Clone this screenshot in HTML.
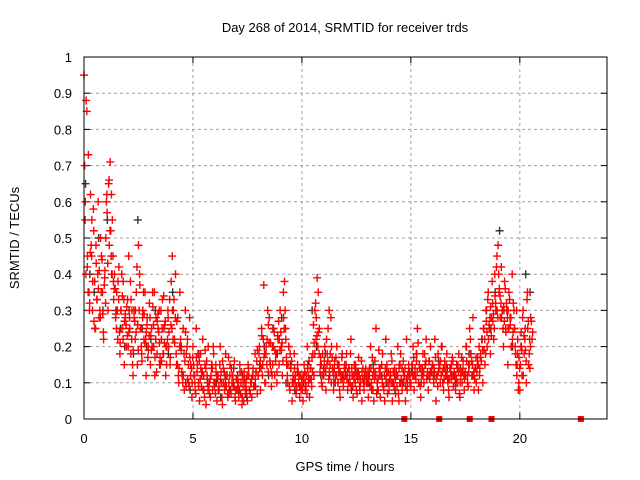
<!DOCTYPE html>
<html><head><meta charset="utf-8"><style>
body{margin:0;background:#fff;}
svg{display:block;font-family:"Liberation Sans",sans-serif;}
</style></head><body>
<svg id="chart" width="640" height="480">
<rect width="640" height="480" fill="#fff"/>
<text x="345" y="32" font-size="13" text-anchor="middle">Day 268 of 2014, SRMTID for receiver trds</text>
<text x="345" y="471" font-size="13" text-anchor="middle">GPS time / hours</text>
<text transform="translate(19,238) rotate(-90)" font-size="13" text-anchor="middle">SRMTID / TECUs</text>
<g id="grid"></g>
<g id="ticks"></g>
<g id="gray"></g>
<g id="red"></g>
<rect x="84" y="57" width="523" height="362" fill="none" stroke="#000" stroke-width="1"/>
</svg>
<script>
const xTicks=[0,5,10,15,20];
const yTicks=[0,0.1,0.2,0.3,0.4,0.5,0.6,0.7,0.8,0.9,1];
const yTickLabels=["0","0.1","0.2","0.3","0.4","0.5","0.6","0.7","0.8","0.9","1"];
const red1Start=0, red1Step=0.05;
const red1=[.95,.55,.88,.42,.73,.30,.62,.45,.38,.52,.25,.48,.33,.60,.41,.28,.45,.35,.22,.39,
.50,.62,.30,.66,.71,.45,.55,.38,.40,.28,.35,.22,.42,.18,.30,.25,.38,.15,.28,.20,
.33,.45,.25,.18,.30,.12,.28,.22,.35,.15,.48,.40,.25,.18,.30,.22,.35,.12,.28,.20,
.32,.15,.25,.35,.20,.12,.28,.18,.25,.30,.15,.22,.33,.18,.26,.12,.20,.30,.24,.15,
.38,.45,.30,.22,.40,.15,.28,.10,.35,.20,.12,.25,.08,.30,.18,.22,.10,.28,.15,.06,
.20,.12,.08,.25,.15,.10,.05,.18,.12,.22,.08,.15,.04,.12,.20,.10,.06,.14,.08,.18,
.10,.15,.05,.12,.08,.20,.10,.04,.14,.08,.18,.12,.06,.10,.15,.07,.12,.09,.16,.05,
.08,.12,.06,.15,.10,.04,.09,.13,.07,.11,.05,.14,.08,.10,.06,.12,.09,.18,.13,.07,
.12,.20,.08,.25,.15,.37,.10,.18,.22,.13,.28,.15,.09,.20,.25,.12,.18,.10,.22,.15,
.30,.20,.12,.35,.38,.25,.15,.10,.20,.08,.14,.05,.10,.18,.12,.08,.15,.10,.06,.12,
.10,.05,.15,.08,.12,.20,.10,.06,.14,.09,.18,.12,.30,.22,.39,.35,.25,.15,.10,.18,
.12,.20,.08,.15,.25,.30,.18,.10,.14,.08,.16,.12,.20,.10,.15,.06,.12,.18,.09,.14,
.12,.18,.08,.14,.10,.22,.12,.06,.15,.10,.08,.13,.17,.09,.11,.05,.14,.08,.12,.10,
.10,.06,.14,.20,.08,.12,.05,.16,.25,.10,.08,.14,.06,.12,.18,.09,.05,.22,.15,.10,
.08,.12,.18,.05,.10,.14,.07,.12,.20,.05,.15,.10,.08,.16,.12,.05,.22,.10,.15,.12,
.10,.15,.20,.08,.12,.18,.25,.10,.14,.06,.12,.18,.10,.15,.22,.12,.08,.16,.20,.13,
.15,.10,.22,.05,.12,.18,.15,.10,.20,.13,.08,.16,.12,.18,.10,.06,.14,.11,.17,.09,
.12,.08,.15,.10,.18,.06,.13,.10,.16,.08,.12,.20,.10,.15,.25,.18,.12,.28,.08,.14,
.10,.15,.08,.12,.18,.22,.10,.25,.15,.30,.20,.35,.25,.18,.28,.32,.22,.40,.30,.45,
.48,.35,.28,.42,.30,.20,.38,.25,.30,.15,.35,.28,.20,.40,.32,.25,.18,.30,.22,.10,
.08,.20,.12,.30,.18,.25,.10,.35,.15,.22,.28];
const red2Start=0.03, red2Step=0.1;
const red2=[.70,.85,.35,.48,.58,.25,.40,.30,.44,.37,
.60,.65,.52,.45,.36,.30,.24,.40,.33,.26,
.20,.38,.15,.27,.42,.30,.20,.35,.22,.17,
.28,.20,.35,.13,.24,.30,.18,.27,.22,.33,
.25,.33,.18,.12,.22,.10,.16,.20,.09,.14,
.15,.07,.18,.11,.13,.06,.16,.09,.12,.20,
.07,.11,.15,.06,.13,.09,.17,.08,.12,.06,
.11,.08,.13,.05,.10,.15,.07,.12,.09,.16,
.18,.14,.22,.10,.30,.16,.12,.24,.18,.27,
.24,.16,.30,.12,.09,.16,.11,.07,.13,.09,
.08,.13,.07,.16,.11,.26,.32,.20,.13,.09,
.16,.22,.11,.28,.13,.10,.15,.08,.17,.11,
.15,.10,.18,.09,.13,.07,.12,.16,.10,.14,
.13,.09,.17,.11,.07,.19,.12,.09,.14,.07,
.11,.16,.09,.13,.07,.18,.10,.14,.08,.13,
.13,.17,.11,.21,.09,.14,.18,.11,.16,.13,
.12,.17,.09,.14,.20,.11,.15,.08,.13,.16,
.10,.14,.07,.17,.12,.20,.09,.22,.15,.11,
.13,.20,.16,.25,.18,.33,.28,.38,.25,.42,
.40,.32,.25,.36,.28,.33,.20,.30,.15,.08,
.15,.28,.22,.33,.18,.27];
const red3Start=0.06, red3Step=0.1;
const red3=[.60,.45,.32,.55,.27,.43,.36,.50,.29,.41,
.57,.48,.62,.33,.29,.38,.21,.34,.27,.31,
.24,.33,.19,.30,.26,.37,.16,.29,.24,.19,
.23,.31,.17,.27,.21,.16,.34,.20,.28,.17,
.30,.21,.27,.14,.19,.12,.24,.11,.17,.10,
.12,.17,.09,.14,.08,.19,.11,.07,.15,.10,
.13,.08,.11,.16,.09,.12,.07,.14,.10,.08,
.09,.13,.06,.11,.08,.12,.10,.14,.11,.19,
.14,.23,.17,.20,.26,.21,.15,.19,.13,.22,
.19,.28,.22,.15,.18,.10,.14,.09,.12,.08,
.12,.10,.14,.11,.17,.21,.28,.24,.17,.12,
.14,.18,.13,.20,.12,.17,.10,.13,.11,.15,
.11,.14,.09,.12,.15,.11,.08,.13,.10,.12,
.11,.14,.08,.13,.10,.12,.15,.08,.11,.13,
.13,.10,.12,.09,.14,.11,.13,.09,.12,.10,
.15,.12,.16,.10,.14,.12,.15,.13,.11,.14,
.14,.11,.13,.16,.10,.14,.12,.11,.15,.12,
.12,.15,.10,.13,.11,.16,.13,.18,.12,.14,
.17,.14,.22,.19,.27,.22,.31,.27,.34,.30,
.36,.28,.31,.24,.30,.26,.22,.25,.12,.17,
.24,.12,.19,.25,.14,.22];
const red4Start=0.09, red4Step=0.1;
const red4=[.40,.35,.46,.30,.38,.33,.28,.35,.24,.32,
.43,.52,.40,.36,.25,.33,.30,.22,.29,.23,
.28,.22,.30,.24,.19,.25,.28,.21,.26,.23,
.19,.26,.22,.29,.17,.25,.21,.15,.20,.26,
.22,.28,.15,.20,.13,.18,.09,.15,.12,.17,
.10,.13,.16,.09,.12,.14,.08,.11,.14,.09,
.12,.09,.13,.10,.11,.07,.12,.10,.09,.11,
.10,.07,.11,.09,.12,.08,.11,.09,.13,.12,
.16,.12,.18,.15,.21,.13,.20,.16,.23,.19,
.21,.25,.17,.20,.14,.12,.10,.13,.09,.11,
.11,.09,.12,.14,.13,.18,.23,.18,.15,.14,
.13,.16,.15,.17,.14,.12,.13,.11,.12,.13,
.13,.12,.14,.11,.12,.13,.10,.11,.13,.11,
.12,.10,.13,.12,.11,.14,.10,.12,.13,.10,
.10,.13,.11,.12,.10,.14,.12,.11,.13,.09,
.12,.14,.13,.15,.12,.13,.16,.12,.13,.15,
.13,.12,.15,.12,.14,.13,.11,.14,.12,.13,
.11,.13,.12,.14,.13,.12,.15,.16,.13,.17,
.15,.17,.19,.22,.24,.26,.23,.29,.32,.28,
.34,.30,.27,.32,.25,.28,.24,.20,.18,.14,
.19,.23,.16,.27,.20,.24];
const grayStart=0.07, grayStep=0.2;
const gray=[.65,.40,.35,.50,.30,.55,.40,.30,.25,.20,.30,.18,.55,.25,.20,.22,.30,.15,.25,.18,
.35,.15,.20,.10,.08,.12,.18,.08,.10,.15,.10,.06,.12,.08,.14,.08,.12,.06,.10,.09,
.15,.20,.12,.25,.18,.28,.10,.15,.08,.12,.10,.15,.30,.20,.12,.18,.12,.10,.15,.12,
.12,.08,.14,.10,.12,.10,.15,.08,.12,.10,.12,.08,.15,.10,.12,.14,.18,.10,.15,.12,
.12,.16,.10,.14,.12,.10,.14,.12,.18,.12,.15,.22,.30,.25,.35,.52,.30,.25,.20,.15,
.20,.40,.35];
const zeroTimes=[14.7,16.3,17.7,18.7,22.8];

const L=84,R=607,T=57,B=419,XMAX=24;
const xs=t=>L+t/XMAX*(R-L);
const ys=v=>B-v*(B-T);
const NS="http://www.w3.org/2000/svg";
function mk(tag,attrs,parent){const e=document.createElementNS(NS,tag);for(const k in attrs)e.setAttribute(k,attrs[k]);parent.appendChild(e);return e;}
const grid=document.getElementById('grid'),ticks=document.getElementById('ticks');
yTicks.forEach((v,i)=>{
  const y=ys(v);
  if(v>0&&v<1){const g=mk('line',{x1:L,x2:R,y1:y,y2:y,stroke:'#a0a0a0','stroke-dasharray':'3,3'},grid);
  
  }
  mk('line',{x1:L,x2:L+6,y1:y,y2:y,stroke:'#000'},ticks);
  mk('line',{x1:R,x2:R-6,y1:y,y2:y,stroke:'#000'},ticks);
  const t=mk('text',{x:L-12,y:y+5,'font-size':13,'text-anchor':'end'},ticks);
  t.textContent=yTickLabels[i];
  
  
});
xTicks.forEach(v=>{
  const x=xs(v);
  if(v>0){const g=mk('line',{x1:x,x2:x,y1:T,y2:B,stroke:'#a0a0a0','stroke-dasharray':'3,3'},grid);
  
  }
  mk('line',{x1:x,x2:x,y1:B,y2:B-6,stroke:'#000'},ticks);
  mk('line',{x1:x,x2:x,y1:T,y2:T+6,stroke:'#000'},ticks);
  const t=mk('text',{x:x,y:B+24,'font-size':13,'text-anchor':'middle'},ticks);
  t.textContent=String(v);
  
  
});
function plus(g,t,v,col){
  const x=xs(t),y=ys(v);
  const p=mk('path',{d:`M${x-4},${y}h8M${x},${y-4}v8`,stroke:col,'stroke-width':1.4,fill:'none'},g);
  
  
}
const gG=document.getElementById('gray'),gR=document.getElementById('red');
gray.forEach((v,i)=>plus(gG,grayStart+i*grayStep,v,'#333'));
red1.forEach((v,i)=>plus(gR,red1Start+i*red1Step,v,'#f00'));
red2.forEach((v,i)=>plus(gR,red2Start+i*red2Step,v,'#f00'));
red3.forEach((v,i)=>plus(gR,red3Start+i*red3Step,v,'#f00'));
red4.forEach((v,i)=>plus(gR,red4Start+i*red4Step,v,'#f00'));
zeroTimes.forEach(t=>{
  const r=mk('rect',{x:xs(t)-3,y:B-3,width:6,height:6,fill:'#f00'},gR);
  
  
});
</script>
</body></html>
